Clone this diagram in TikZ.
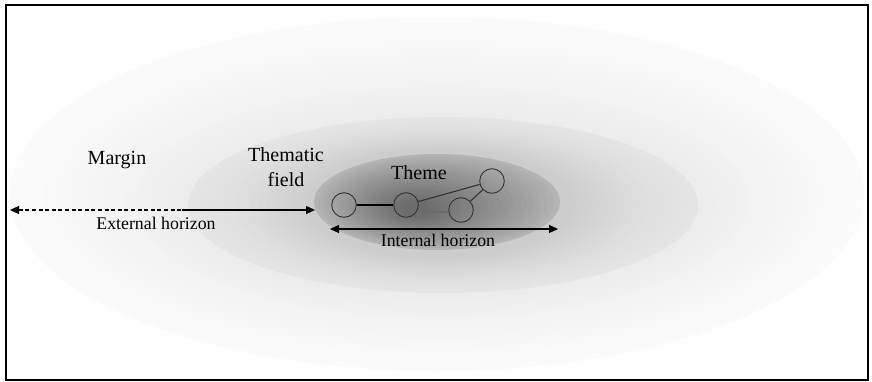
\documentclass[tikz,border=0pt]{standalone}
\usepackage{fontspec}
\setmainfont{Liberation Serif}
\usetikzlibrary{arrows.meta}

\tikzset{
  label big/.style={font=\fontsize{20pt}{25pt}\selectfont, inner sep=0pt, align=center},
  label small/.style={font=\fontsize{17.8pt}{21pt}\selectfont, inner sep=0pt},
  idea/.style={circle, draw=black!80, line width=0.9pt, minimum size=24.6pt, inner sep=0pt},
  tip/.style={-{Triangle[length=9pt,width=8pt]}},
  twotip/.style={{Triangle[length=9pt,width=8pt]}-{Triangle[length=9pt,width=8pt]}},
  horizon/.style={line width=1.1pt, black},
}

\begin{document}
\begin{tikzpicture}[x=1pt,y=-1pt]
\useasboundingbox (0,0) rectangle (872,382);
\fill[white] (0,0) rectangle (872,382);

% margin: soft outer field, light at the rim and darker inwards
\foreach \i in {0,...,15}{
  \pgfmathsetmacro\t{\i/15}
  \pgfmathsetmacro\cx{437+(443-437)*\t}
  \pgfmathsetmacro\cy{194+(205-194)*\t}
  \pgfmathsetmacro\rx{427+(262-427)*\t}
  \pgfmathsetmacro\ry{177+(93-177)*\t}
  \pgfmathsetmacro\k{(255-(251+(237-251)*\t^1.2))/2.55}
  \fill[black!\k] (\cx,\cy) ellipse [x radius=\rx pt, y radius=\ry pt];
}

% thematic field
\foreach \i in {0,...,15}{
  \pgfmathsetmacro\t{\i/15}
  \pgfmathsetmacro\cx{443+(440-443)*\t}
  \pgfmathsetmacro\cy{205+(204-205)*\t}
  \pgfmathsetmacro\rx{255+(135-255)*\t}
  \pgfmathsetmacro\ry{88+(55-88)*\t}
  \pgfmathsetmacro\k{(255-(229+(205-229)*\t^1.4))/2.55}
  \fill[black!\k] (\cx,\cy) ellipse [x radius=\rx pt, y radius=\ry pt];
}

% theme
\foreach \i in {0,...,20}{
  \pgfmathsetmacro\t{\i/20}
  \pgfmathsetmacro\cx{437+(415-437)*\t}
  \pgfmathsetmacro\cy{202+(209-202)*\t}
  \pgfmathsetmacro\rx{123+(14-123)*\t}
  \pgfmathsetmacro\ry{48+(8-48)*\t}
  \pgfmathsetmacro\k{(255-(180+(108-180)*\t^0.9))/2.55}
  \fill[black!\k] (\cx,\cy) ellipse [x radius=\rx pt, y radius=\ry pt];
}

% frame
\draw[line width=2.2pt] (6,5) rectangle (868,380);

% labels
\node[label big] (margin) at (117,160) {Margin};
\node[label big] (field) at (286,167) {Thematic\\field};
\node[label big] (theme) at (419,173) {Theme};
\node[label small] (extlab) at (156,223) {External horizon};
\node[label small] (intlab) at (438,240) {Internal horizon};

% ideas inside the theme
\node[idea] (c1) at (344,205) {};
\node[idea] (c2) at (406,205) {};
\node[idea] (c3) at (461,210) {};
\node[idea] (c4) at (492,181) {};
\draw[line width=2.2pt, black] (c1) -- (c2);
\draw[line width=1.1pt, black!80] (c2) -- (c4);
\draw[line width=1.1pt, black!80] (c3) -- (c4);
\draw[line width=1.8pt, black!58] (c2.-28) -- (c3.190);

% horizons
\coordinate (extL) at (10,210);
\coordinate (extM) at (182,210);
\coordinate (extR) at (315,210);
\draw[horizon, dash pattern=on 4pt off 2.6pt, {Triangle[length=9pt,width=8pt]}-] (extL) -- (extM);
\draw[horizon, tip] (extM) -- (extR);
\coordinate (intL) at (330,229);
\coordinate (intR) at (558,229);
\draw[horizon, twotip] (intL) -- (intR);
\end{tikzpicture}
\end{document}
